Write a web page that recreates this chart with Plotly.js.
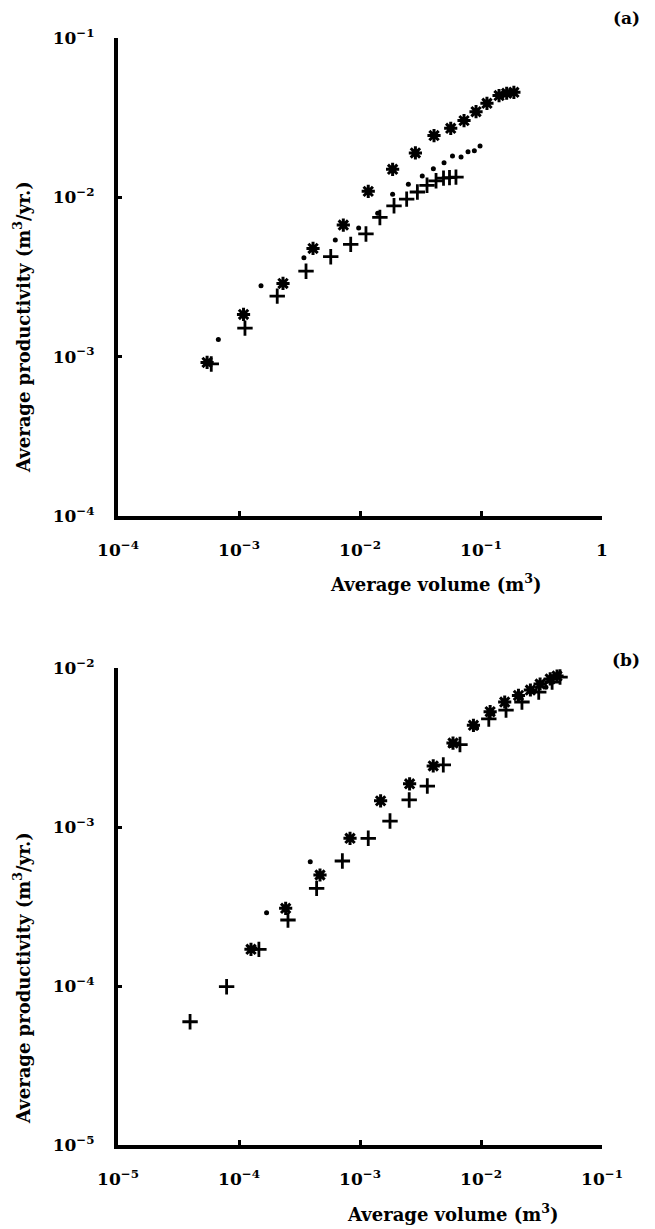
<!DOCTYPE html>
<html>
<head>
<meta charset="utf-8">
<script src="https://cdn.plot.ly/plotly-3.0.1.min.js"></script>
<style>
html,body{margin:0;padding:0;background:#fff;}
#chart{width:655px;height:1229px;}
</style>
</head>
<body>
<div id="chart"></div>
<script>
// ---------- Panel (a) ----------
const aStarX = [5.45e-4, 1.09e-3, 2.31e-3, 4.09e-3, 7.28e-3, 1.17e-2, 1.86e-2, 2.87e-2, 4.09e-2, 5.62e-2, 7.24e-2, 9.10e-2, 0.112, 0.141, 0.163, 0.187];
const aStarY = [9.2e-4, 1.84e-3, 2.88e-3, 4.78e-3, 6.70e-3, 1.09e-2, 1.50e-2, 1.90e-2, 2.44e-2, 2.71e-2, 3.03e-2, 3.45e-2, 3.89e-2, 4.35e-2, 4.50e-2, 4.56e-2];
const aDotX = [6.75e-4, 1.52e-3, 3.44e-3, 6.25e-3, 9.75e-3, 1.40e-2, 1.86e-2, 2.51e-2, 3.27e-2, 4.04e-2, 4.95e-2, 5.81e-2, 6.84e-2, 7.81e-2, 8.81e-2, 9.82e-2];
const aDotY = [1.28e-3, 2.79e-3, 4.18e-3, 5.40e-3, 6.41e-3, 7.94e-3, 1.045e-2, 1.21e-2, 1.36e-2, 1.51e-2, 1.65e-2, 1.82e-2, 1.79e-2, 1.93e-2, 1.96e-2, 2.10e-2];
const aPlusX = [5.9e-4, 1.12e-3, 2.07e-3, 3.58e-3, 5.73e-3, 8.38e-3, 1.12e-2, 1.46e-2, 1.91e-2, 2.43e-2, 2.98e-2, 3.58e-2, 4.25e-2, 4.90e-2, 5.49e-2, 6.21e-2];
const aPlusY = [9.0e-4, 1.51e-3, 2.40e-3, 3.44e-3, 4.24e-3, 5.07e-3, 5.89e-3, 7.48e-3, 8.85e-3, 9.75e-3, 1.08e-2, 1.19e-2, 1.27e-2, 1.32e-2, 1.33e-2, 1.34e-2];

// ---------- Panel (b) ----------
const bStarX = [1.256e-4, 2.43e-4, 4.67e-4, 8.27e-4, 1.48e-3, 2.57e-3, 4.03e-3, 5.87e-3, 8.66e-3, 1.19e-2, 1.57e-2, 2.04e-2, 2.56e-2, 3.08e-2, 3.73e-2, 4.25e-2];
const bStarY = [1.70e-4, 3.08e-4, 4.99e-4, 8.49e-4, 1.46e-3, 1.87e-3, 2.42e-3, 3.37e-3, 4.36e-3, 5.31e-3, 6.11e-3, 6.72e-3, 7.27e-3, 7.93e-3, 8.54e-3, 8.9e-3];
const bPlusX = [3.94e-5, 7.9e-5, 1.46e-4, 2.54e-4, 4.38e-4, 7.15e-4, 1.17e-3, 1.77e-3, 2.55e-3, 3.60e-3, 4.88e-3, 6.70e-3, 1.16e-2, 1.61e-2, 2.18e-2, 3.0e-2, 3.87e-2, 4.5e-2];
const bPlusY = [5.96e-5, 9.9e-5, 1.70e-4, 2.60e-4, 4.11e-4, 6.11e-4, 8.49e-4, 1.09e-3, 1.48e-3, 1.81e-3, 2.46e-3, 3.30e-3, 4.78e-3, 5.44e-3, 6.11e-3, 7.06e-3, 8.16e-3, 8.77e-3];
const bDotX = [1.355e-4, 1.69e-4, 3.88e-4, 5.6e-3, 9.2e-3, 1.25e-2, 2.1e-2, 3.44e-2, 4.4e-2];
const bDotY = [1.72e-4, 2.89e-4, 6.05e-4, 3.25e-3, 4.2e-3, 5.15e-3, 6.5e-3, 7.56e-3, 9.2e-3];

// ---------- Axis ticks ----------
const aXTicks = [1e-4, 1e-3, 1e-2, 1e-1, 1];
const aXText = ['10<sup>−4</sup>', '10<sup>−3</sup>', '10<sup>−2</sup>', '10<sup>−1</sup>', '1'];
const aYTicks = [1e-4, 1e-3, 1e-2, 1e-1];
const aYText = ['10<sup>−4</sup>', '10<sup>−3</sup>', '10<sup>−2</sup>', '10<sup>−1</sup>'];
const bXTicks = [1e-5, 1e-4, 1e-3, 1e-2, 1e-1];
const bXText = ['10<sup>−5</sup>', '10<sup>−4</sup>', '10<sup>−3</sup>', '10<sup>−2</sup>', '10<sup>−1</sup>'];
const bYTicks = [1e-5, 1e-4, 1e-3, 1e-2];
const bYText = ['10<sup>−5</sup>', '10<sup>−4</sup>', '10<sup>−3</sup>', '10<sup>−2</sup>'];

const W = 655, H = 1229;
const FONT = 'DejaVu Serif';
const px = v => v / W;
const py = v => 1 - v / H;
const bold = arr => arr.map(s => '<b>' + s + '</b>');

const starM = {symbol: 'asterisk-open', size: 11, color: '#000', line: {color: '#000', width: 3}};
const plusM = {symbol: 'cross-thin-open', size: 11, color: '#000', line: {color: '#000', width: 2.8}};
const dotM = {symbol: 'circle', size: 5, color: '#000', line: {width: 0}};

const traces = [
  {x: aStarX, y: aStarY, mode: 'markers', marker: starM, xaxis: 'x', yaxis: 'y'},
  {x: aDotX, y: aDotY, mode: 'markers', marker: dotM, xaxis: 'x', yaxis: 'y'},
  {x: aPlusX, y: aPlusY, mode: 'markers', marker: plusM, xaxis: 'x', yaxis: 'y'},
  {x: bStarX, y: bStarY, mode: 'markers', marker: starM, xaxis: 'x2', yaxis: 'y2'},
  {x: bDotX, y: bDotY, mode: 'markers', marker: dotM, xaxis: 'x2', yaxis: 'y2'},
  {x: bPlusX, y: bPlusY, mode: 'markers', marker: plusM, xaxis: 'x2', yaxis: 'y2'}
];

function axis(range, vals, text, anchor, domain, len) {
  return {type: 'log', range: range, domain: domain, anchor: anchor,
    showline: true, linewidth: 4, linecolor: '#000', showgrid: false, zeroline: false,
    ticks: 'inside', ticklen: len, tickwidth: 3, tickcolor: '#000',
    tickvals: vals, ticktext: bold(text), ticklabelstandoff: 16,
    tickfont: {family: FONT, size: 17, color: '#000'}};
}

const xDom = [px(118), px(602)];
function ann(text, x, y, angle, size) {
  return {text: '<b>' + text + '</b>', x: px(x), y: py(y), xref: 'paper', yref: 'paper',
    xanchor: 'center', yanchor: 'middle', showarrow: false, textangle: angle || 0,
    font: {family: FONT, size: size || 18, color: '#000'}};
}
const layout = {
  width: W, height: H,
  margin: {l: 0, r: 0, t: 0, b: 0},
  paper_bgcolor: '#fff', plot_bgcolor: 'rgba(0,0,0,0)',
  showlegend: false,
  font: {family: FONT, color: '#000'},
  xaxis: axis([-4, 0], aXTicks, aXText, 'y', xDom, 5),
  yaxis: axis([-4, -1], aYTicks, aYText, 'x', [py(516), py(38)], 4),
  xaxis2: axis([-5, -1], bXTicks, bXText, 'y2', xDom, 5),
  yaxis2: axis([-5, -2], bYTicks, bYText, 'x2', [py(1145), py(668)], 4),
  annotations: [
    ann('(a)', 626, 18, 0, 17),
    ann('(b)', 626, 660, 0, 17),
    ann('Average volume (m<sup>3</sup>)', 436, 583),
    ann('Average volume (m<sup>3</sup>)', 453, 1213),
    ann('Average productivity (m<sup>3</sup>/yr.)', 22, 327, -90),
    ann('Average productivity (m<sup>3</sup>/yr.)', 22, 978, -90)
  ]
};

Plotly.newPlot('chart', traces, layout, {staticPlot: true, displayModeBar: false});
</script>
</body>
</html>
